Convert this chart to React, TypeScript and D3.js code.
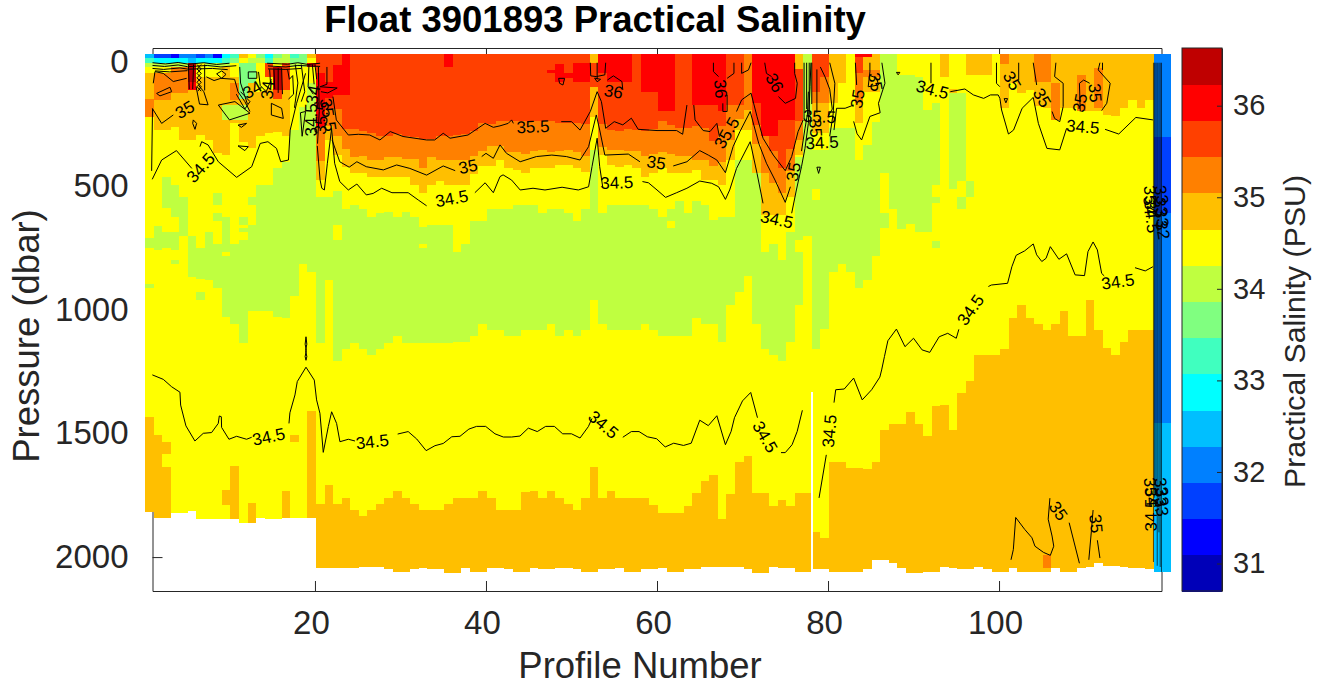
import React, { useEffect, useRef } from 'react';
import * as d3 from 'd3';

type Pt = [number, number];
type Patch = [number, number, number, number, number];
type Label = [string, number, number, number];

const NONE = -99;
const DEEP_NONE = 9999;
const surfacePressure = -32;

// jet(15) steps of the colour bar, low to high
const salinityColors = ['#0000b8', '#0000ff', '#0040ff', '#0080ff', '#00bfff', '#00ffff', '#40ffbf', '#80ff80', '#bfff40', '#ffff00', '#ffbf00', '#ff8000', '#ff4000', '#ff0000', '#bf0000'];
const salinityDomain = [30.7, 36.63];
const salinityTicks = [31, 32, 33, 34, 35, 36];
const profileTicks = [20, 40, 60, 80, 100];
const pressureTicks = [0, 500, 1000, 1500, 2000];

const YELLOW = 34.45, AMBER = 34.85, ORANGE = 35.25, REDORANGE = 35.65, RED = 36.05, DARKRED = 36.45, LIME = 34.1, GREEN = 33.7;

// one value per profile column, dbar
const bottomPressure = [1817, 1841, 1841, 1822, 1822, 1815, 1847, 1847, 1847, 1847, 1847, 1863, 1863, 1841, 1847, 1847, 1841, 1841, 1841, 1841,
  2044, 2044, 2044, 2044, 2044, 2040, 2040, 2042, 2048, 2059, 2059, 2048, 2044, 2048, 2048, 2064, 2064, 2044, 2059, 2059,
  2044, 2044, 2048, 2059, 2059, 2044, 2048, 2048, 2044, 2044, 2048, 2059, 2059, 2048, 2048, 2044, 2059, 2059, 2048, 2048,
  2044, 2059, 2059, 2048, 2048, 2040, 2040, 2040, 2040, 2040, 2048, 2064, 2064, 2040, 2044, 2044, 2059, 2059, 2048, 2048,
  2059, 2059, 2059, 2059, 2048, 2012, 2012, 2025, 2044, 2064, 2064, 2059, 2059, 2040, 2044, 2048, 2048, 2040, 2048, 2059,
  2059, 2044, 2059, 2059, 2059, 2059, 2044, 2059, 2059, 2044, 2040, 2025, 2036, 2036, 2040, 2044, 2044, 2048, 2059, 2059];

const deepAmberTop = [1434, 1507, 1535, DEEP_NONE, DEEP_NONE, DEEP_NONE, DEEP_NONE, DEEP_NONE, DEEP_NONE, DEEP_NONE, 1632, DEEP_NONE, 1782, DEEP_NONE, DEEP_NONE, DEEP_NONE, 1733, DEEP_NONE, DEEP_NONE, 1410,
  1786, 1709, 1786, 1762, 1810, 1834, 1810, 1786, 1762, 1733, 1762, 1786, 1810, 1810, 1810, 1786, 1762, 1762, 1762, 1733,
  1762, 1810, 1810, 1810, 1737, 1733, 1762, 1733, 1762, 1786, 1810, 1762, 1636, 1762, 1733, 1762, 1762, 1762, 1762, 1790,
  1820, 1820, 1820, 1794, 1742, 1693, 1669, 1845, 1746, 1615, 1590, 1742, 1742, 1794, 1770, 1794, 1742, 1742, 1898, 1922,
  1615, 1615, 1640, 1640, 1645, 1615, 1487, 1463, 1463, 1414, 1463, 1512, 1390, 1385, 1487, 1336, 1287, 1184, 1184, 1184,
  1160, 1034, 982, 1034, 1058, 1083, 1058, 1006, 1107, 1107, 962, 1083, 1156, 1184, 1131, 1083, 1083, 1083, DEEP_NONE, DEEP_NONE];

const limeTop = [710, 661, 465, 497, 546, 702, 750, 686, 736, 784, 736, 719, 659, 497, 497, 428, 404, 275, 180, 86,
  544, 544, 520, 594, 578, 594, 625, 611, 606, 625, 606, 625, 667, 659, 659, 659, 766, 736, 642, 642,
  594, 594, 594, 578, 578, 578, 609, 594, 594, 609, 642, 594, 355, 609, 578, 578, 578, 578, 578, 594,
  625, 594, 562, 609, 562, 578, 638, 625, 625, 396, 396, 396, 766, 736, 800, 687, 383, -32, 355, 355,
  267, 267, 267, 396, 335, 241, -32, -32, 52, 52, 60, 194, 167, DEEP_NONE, 126, 126, 481, DEEP_NONE, DEEP_NONE, DEEP_NONE,
  DEEP_NONE, DEEP_NONE, DEEP_NONE, DEEP_NONE, DEEP_NONE, DEEP_NONE, DEEP_NONE, DEEP_NONE, DEEP_NONE, DEEP_NONE, DEEP_NONE, DEEP_NONE, DEEP_NONE, DEEP_NONE, DEEP_NONE, DEEP_NONE, DEEP_NONE, DEEP_NONE, DEEP_NONE, DEEP_NONE];

const limeBottom = [750, 760, 590, 626, 703, 867, 877, 881, 913, 1029, 1058, 1134, 1004, 1004, 1004, 1029, 1033, 945, 816, 848,
  1134, 881, 1207, 1158, 1134, 1158, 1184, 1158, 1134, 1107, 1134, 1134, 1134, 1134, 1134, 1134, 1130, 1130, 1107, 1058,
  1083, 1083, 1107, 1107, 1083, 1083, 1083, 1058, 1107, 1083, 1107, 1083, 962, 1058, 1083, 1083, 1083, 1083, 1058, 1083,
  1107, 1107, 1107, 1107, 1034, 1058, 1058, 1131, 982, 929, 865, 1058, 1160, 1184, 1208, 1131, 982, 703, 1160, 1079,
  848, 816, 848, 913, 881, 784, 449, 594, 675, 655, 687, 687, 497, 0, 513, 481, 545, 0, 0, 0,
  0, 0, 0, 0, 0, 0, 0, 0, 0, 0, 0, 0, 0, 0, 0, 0, 0, 0, 0, 0];

const amberBottom = [221, 275, 275, 261, 315, 315, 295, 315, 369, 376, 248, 322, 349, 301, 288, 281, 301, NONE, NONE, NONE,
  477, 315, 376, 425, 448, 448, 463, 463, 463, 463, 463, 497, 528, 497, 480, 497, 497, 497, 452, 420,
  420, 396, 430, 436, 450, 430, 430, 430, 416, 416, 430, 443, 223, 376, 416, 423, 416, 430, 463, 450,
  430, 450, 450, 450, 436, 477, 477, 497, 396, 275, 275, 450, 618, 618, 618, 544, 376, NONE, 285, 285,
  167, 86, NONE, 248, 120, 120, NONE, NONE, NONE, NONE, NONE, NONE, NONE, 59, NONE, NONE, 52, 52, 52, NONE,
  187, 86, 126, 113, 176, 187, 234, 187, 187, 200, 200, 200, 214, 218, 187, 153, 187, 153, NONE, NONE];

const orangeBottom = [221, 153, 153, 127, 127, 113, NONE, NONE, NONE, NONE, NONE, NONE, NONE, NONE, NONE, NONE, NONE, NONE, NONE, NONE,
  400, 260, 300, 350, 385, 380, 395, 395, 385, 385, 390, 390, 430, 385, 395, 395, 395, 395, 380, 360,
  340, 340, 365, 365, 372, 360, 355, 365, 360, 355, 365, 380, NONE, 345, 355, 355, 360, 360, 380, 370,
  365, 370, 380, 380, 395, 395, 420, 405, 315, 230, 195, 330, 450, 490, 530, 440, 315, NONE, 167, 167,
  NONE, NONE, NONE, 167, NONE, NONE, NONE, NONE, NONE, NONE, NONE, NONE, NONE, NONE, NONE, NONE, NONE, NONE, NONE, NONE,
  NONE, NONE, NONE, NONE, 79, 79, NONE, NONE, NONE, NONE, NONE, NONE, NONE, NONE, NONE, NONE, NONE, NONE, NONE, NONE];

const redOrangeBottom = [NONE, NONE, NONE, NONE, NONE, NONE, NONE, NONE, NONE, NONE, NONE, NONE, NONE, NONE, NONE, NONE, NONE, NONE, NONE, NONE,
  250, 190, 190, 272, 272, 280, 288, 300, 300, 290, 300, 305, 310, 310, 300, 300, 295, 290, 280, 245,
  250, 240, 240, 240, 240, 240, 240, 240, 245, 245, 245, 250, NONE, 250, 275, 280, 270, 275, 280, 270,
  240, 255, 265, 265, 260, 265, 320, 260, 175, 175, NONE, 255, 280, 360, 430, 350, 240, NONE, 120, 60,
  NONE, NONE, NONE, 46, NONE, NONE, NONE, NONE, NONE, NONE, NONE, NONE, NONE, NONE, NONE, NONE, NONE, NONE, NONE, NONE,
  NONE, NONE, NONE, NONE, NONE, NONE, NONE, NONE, NONE, NONE, NONE, NONE, NONE, NONE, NONE, NONE, NONE, NONE, NONE, NONE];

// shallow salinity of the first twenty profiles
const surfaceRow1 = [32.5, 31.7, 31.7, 31.3, 32.1, 32.1, 31.7, 32.1, 31.3, 32.9, 33.3, 34.85, 34.45, 33.7, 32.9, 33.7, 34.1, 33.3, 33.7, 34.85];
const surfaceRow2 = [33.3, 32.9, 32.9, 32.9, 32.9, 32.5, 32.9, 32.9, 32.9, 33.3, 33.7, 34.45, 34.1, 34.1, 33.3, 34.1, 34.1, 33.7, 33.7, 34.45];
const surfaceRow3 = [34.1, 34.1, 34.1, 34.1, 34.1, 36.45, 34.45, 34.1, 34.1, 34.1, 33.7, 33.7, 33.7, 34.45, 35.65, 34.45, 34.45, 34.1, 34.1, 36.05];

// from profile, to profile, top dbar, bottom dbar, salinity
const patches: Patch[] = [
  [1, 3, 22, 46, YELLOW], [1, 1, 46, 150, AMBER], [3, 3, 1585, 1635, YELLOW], [4, 4, 687, 760, LIME], [4, 4, 800, 816, LIME],
  [1, 1, 897, 913, LIME], [3, 3, 687, 750, LIME], [7, 7, 928, 962, LIME], [9, 9, 530, 578, LIME], [9, 9, 611, 642, LIME],
  [10, 10, 625, 766, LIME], [12, 12, 625, 659, LIME], [12, 12, 671, 686, LIME], [13, 13, 546, 578, LIME],
  [10, 10, 1729, 1790, AMBER], [18, 18, 1507, 1534, AMBER],
  [6, 6, 22, 79, DARKRED], [6, 6, 79, 113, RED], [7, 9, 22, 60, YELLOW], [10, 10, 22, 100, AMBER],
  [12, 12, 3, 150, GREEN], [13, 13, 3, 86, GREEN], [11, 11, 3, 60, YELLOW], [11, 11, 86, 153, ORANGE], [11, 12, 153, 174, AMBER],
  [10, 12, 174, 234, LIME], [14, 14, 3, 120, YELLOW], [15, 15, 3, 60, REDORANGE], [15, 15, 60, 110, YELLOW],
  [16, 16, 22, 113, DARKRED], [16, 16, 113, 150, REDORANGE], [17, 17, 3, 113, REDORANGE], [20, 20, 22, 86, YELLOW],
  [21, 21, 46, 261, RED], [22, 22, 79, 147, RED], [23, 23, 12, 133, RED], [24, 24, -32, 133, RED], [36, 36, -32, 19, RED],
  [48, 48, 32, 46, RED], [49, 49, 8, 79, RED], [50, 50, 46, 66, RED], [51, 52, 5, 79, RED], [53, 53, 5, 100, REDORANGE],
  [55, 57, -32, 79, RED], [54, 54, -32, 46, RED], [59, 60, -32, 120, RED], [61, 62, -32, 200, RED], [65, 67, -32, 174, RED], [68, 68, -32, 200, RED],
  [72, 72, -32, 167, RED], [73, 74, -32, 301, RED], [75, 76, -32, 235, RED],
  [84, 85, -32, -20, RED], [85, 86, 32, 60, ORANGE], [85, 85, 60, 120, AMBER], [77, 77, -32, 30, AMBER], [78, 78, 703, 816, YELLOW],
  [77, 77, 719, 766, YELLOW], [78, 78, 832, 1742, YELLOW], [79, 79, 513, 558, YELLOW], [23, 23, 659, 719, YELLOW], [33, 33, 736, 751, YELLOW], [62, 62, 642, 671, YELLOW],
  [87, 87, 611, 671, LIME], [93, 93, 545, 570, LIME], [93, 93, 725, 750, LIME], [96, 96, 544, 594, LIME], [95, 95, 110, 126, AMBER],
  [101, 101, -32, 10, ORANGE], [107, 107, 86, 234, ORANGE], [110, 110, 52, 200, ORANGE], [112, 112, 25, 187, ORANGE], [106, 106, 1990, 2044, ORANGE],
  [119, 120, surfacePressure, 303, 32.1], [119, 120, 303, 609, 31.7], [119, 120, 609, 1457, 32.1], [119, 120, 1457, 2059, 32.5],
];

// isolines, [profile, dbar]
const line34p5: Pt[][] = [
  [[0.98, 1264], [2.26, 1282], [3.24, 1312], [4.21, 1334], [4.29, 1386], [4.91, 1470], [5.96, 1531], [6.94, 1500], [7.91, 1497], [8.69, 1460], [8.81, 1430], [9.05, 1433], [9.08, 1476], [9.94, 1524], [10.84, 1512], [12, 1524], [12.6, 1516]],
  [[16.96, 1460], [17.07, 1417], [17.66, 1345], [17.93, 1291], [18.95, 1233], [19.92, 1285], [20.19, 1365], [20.58, 1419], [20.97, 1577], [21.56, 1473], [21.95, 1413], [22.53, 1460], [22.92, 1534], [23.9, 1524], [24.68, 1531]],
  [[18.95, 1110], [19.05, 1140], [18.9, 1165], [19.05, 1190], [18.95, 1205], [18.85, 1190], [19, 1165], [18.85, 1140], [18.95, 1110]],
  [[29.67, 1503], [30.9, 1493], [31.9, 1523], [33, 1570], [34.03, 1550], [35, 1541], [36, 1514], [36.96, 1512], [38, 1483], [38.9, 1472], [39.96, 1472], [41.05, 1502], [42.03, 1515], [43, 1515], [43.98, 1511], [44.95, 1479], [46, 1493], [46.98, 1472], [48, 1472], [48.97, 1502], [50, 1502], [51, 1519], [51.97, 1473], [52.4, 1440]],
  [[56, 1516], [57, 1493], [57.9, 1493], [58.87, 1514], [59.96, 1522], [60.96, 1555], [61.95, 1540], [63.1, 1549], [64, 1540], [65, 1447], [66, 1469], [67, 1429], [68, 1546], [68.67, 1492], [69.06, 1437], [70, 1369], [70.96, 1335], [71.75, 1437]],
  [[74.5, 1578], [75, 1578], [75.8, 1546], [76.4, 1492], [77, 1407]],
  [[78.95, 1761], [79.6, 1628], [79.8, 1587]],
  [[80.7, 1376], [80.9, 1324], [81.9, 1321], [83, 1277], [84, 1365], [85.1, 1324], [86.06, 1273], [86.27, 1244], [86.6, 1190], [87, 1126], [88, 1079], [89, 1150], [90, 1116], [91, 1163], [91.9, 1173], [93, 1110], [94, 1096], [95, 1116], [95.3, 1080]],
  [[98.75, 907], [99.1, 901], [101, 894], [101.5, 827], [102, 781], [103, 763], [104, 735], [104.4, 779], [105, 806], [105.5, 793], [106, 746], [107, 797], [107.9, 775], [108.9, 860], [110, 863], [110.4, 766], [111, 727], [111.5, 759], [112, 854], [112.3, 864]],
  [[115.9, 831], [117.1, 844], [118, 827]],
  [[0.97, 474], [2.07, 396], [3.8, 358], [5.6, 430]],
  [[6.55, 342], [6.75, 322], [7.5, 335], [8.7, 403], [10.84, 466], [12.6, 423], [13.6, 329], [14.5, 322], [15.5, 349], [16, 403], [16.9, 396], [17.1, 275], [17.85, 167], [18.9, 46]],
  [[20.27, 339], [20.6, 477], [20.8, 510], [21.1, 517], [21.45, 409], [21.95, 268], [22.3, 409], [22.9, 483], [23.9, 517], [24.9, 493], [26, 537], [26.8, 531], [27.8, 510], [29, 528], [30.9, 528], [32.1, 558], [33.06, 581]],
  [[38.7, 528], [39.9, 488], [40.86, 528], [41.64, 463], [42, 456], [43, 477], [44, 517], [45.5, 510], [46.9, 517], [48.9, 506], [50.8, 517], [52, 504], [52.4, 423], [53, 308], [53.3, 423], [53.65, 504]],
  [[58.3, 483], [59, 488], [60, 517], [61, 547], [62.3, 528], [63.5, 510], [65, 481], [66.4, 490], [67.2, 504], [68, 555], [68.5, 517], [69.3, 430], [70.9, 322], [71.7, 450], [72.4, 571]],
  [[75.75, 611], [76.3, 517], [76.9, 423], [77.3, 350], [77.7, 248], [77.9, 100], [78, 3]],
  [[83, 174], [82, 187], [81, 187], [80.7, 275]],
  [[83, 240], [83.4, 290], [83.93, 315], [84.9, 220], [86.1, 205], [85.9, 167], [86.66, 86], [86.3, 3]],
  [[94.3, 120], [96, 109], [97, 133], [98.2, 147], [99, 133], [99.9, 133], [100.1, 147], [100.3, 194], [101.1, 291], [101.7, 275], [102.7, 187], [104, 143], [104.6, 248], [105.6, 349], [107.1, 355], [107.9, 268]],
  [[112.4, 272], [114, 291], [116, 224], [118, 234]],
];

const line35: Pt[][] = [
  [[0.97, 187], [2.07, 248], [3.43, 214]],
  [[1.48, 127], [3.04, 102], [3.24, 120], [1.87, 137], [1.48, 127]],
  [[1.09, 86], [1.29, 39], [2.26, 46], [3.43, 79], [5, 66]],
  [[8.7, 174], [10.64, 160], [12.4, 207], [10, 234], [8.7, 174]],
  [[5.77, 234], [6.16, 248], [5.97, 272], [5.7, 248], [5.77, 234]],
  [[11, 255], [12, 248], [11.4, 264], [11, 255]],
  [[11, 339], [12.2, 342], [11.8, 358], [11, 339]],
  [[14.9, 167], [16.1, 187], [16.3, 228], [14.9, 214], [14.9, 167]],
  [[6.1, 100], [6.5, 170], [7.5, 173], [7, 120], [6.4, 95]],
  [[22, 315], [22.9, 403], [24, 425], [24.9, 403], [26, 423], [28, 436], [29.55, 416], [31.1, 430], [33.06, 457], [35, 420], [36.4, 439]],
  [[39.5, 382], [40, 369], [40.86, 389], [41.64, 335], [42.4, 369], [44, 403], [45.9, 382], [47.7, 376], [49.4, 382], [51, 396], [52, 342], [52.9, 214], [53.3, 275], [53.9, 376], [56.65, 372], [58, 403]],
  [[61.9, 420], [63.5, 403], [65, 358], [66, 376], [67, 396], [68, 447], [68.9, 342], [69.7, 281], [70.9, 200], [71.9, 329], [72.8, 409], [73.8, 477], [75, 567], [75.6, 504]],
  [[76.9, 360], [77.3, 270], [77.6, 210], [77.7, 120]],
  [[101.4, 2011], [101.67, 1970], [101.95, 1840], [103, 1888], [103.85, 1922], [104.2, 1956], [105.2, 1981], [106, 1993], [106.4, 1956], [106.2, 1915], [105.75, 1847], [105.95, 1762]],
  [[108.2, 1861], [108.8, 1943], [109.4, 2025]],
  [[110.5, 2011], [110.8, 1895], [111, 1810]],
  [[111.5, 1932], [111.8, 2004]],
  [[83.2, 3], [83.35, 93]],
  [[84.9, 3], [84.9, 40], [84.7, 100], [85.9, 93], [85.7, 65], [85, 56]],
  [[92.04, 3], [92.04, 86]],
  [[99.7, 3], [99.7, 86], [100.1, 100]],
  [[102.3, 3], [102.3, 73]],
  [[100.6, 148], [101, 148], [100.8, 165], [100.6, 148]],
  [[104, 3], [104.4, 93]],
  [[106.65, 3], [106.5, 59], [107.5, 86], [107.5, 180], [107.1, 241], [106.5, 228], [106.2, 200]],
  [[109.5, 200], [109.4, 86], [109.9, 73], [110.6, 86]],
  [[111.8, 3], [111.6, 32], [113, 86], [112.6, 167], [112, 196]],
  [[112.1, 3], [112.1, 32]],
];

const line35p5: Pt[][] = [
  [[22.1, 140], [22.5, 234], [23.9, 295], [25.07, 292], [26.4, 295], [27.6, 315], [28.8, 281], [30.3, 301], [33.06, 315], [34, 315], [35, 288], [35.8, 308], [37.9, 295], [39.9, 248], [40.86, 264], [41.64, 258], [42.6, 248], [43, 234], [43.2, 248]],
  [[48.8, 241], [50, 241], [51, 275], [52.2, 200], [53, 120], [53.5, 160], [54, 268], [55, 241], [56, 254], [57, 227], [57.8, 272], [60, 277], [62.3, 277], [63, 292], [63.5, 174]],
  [[64.3, 174], [64.45, 234], [65.4, 277], [66.2, 281], [67, 248], [67.3, 302]],
  [[69.3, 200], [69.9, 153], [71, 126], [71.7, 221], [72.4, 308], [73.6, 376], [75, 439], [75.75, 382], [76.5, 281], [77.1, 234]],
  [[20.4, 20], [20.5, 200], [20.3, 330]],
  [[21.4, 20], [21.4, 90], [20.6, 100], [22.6, 105], [21.5, 125], [20.7, 120]],
];

const line36: Pt[][] = [
  [[48.5, 66], [49.2, 66], [49, 93], [48.6, 86], [48.5, 66]],
  [[52.2, 3], [52.25, 56], [52.9, 59], [53.9, 52], [54, 3]],
  [[53, 3], [53, 70]],
  [[52.7, 65], [53.4, 70], [53, 80], [52.7, 65]],
  [[54.2, 73], [54.9, 56], [55.9, 79], [56, 113]],
  [[66.6, 3], [66.6, 39], [67.2, 59]],
  [[67.7, 167], [67.7, 200], [68.2, 200], [68.2, 133]],
  [[69, 3], [69, 46], [68.2, 66]],
  [[69.9, 3], [69.9, 46], [70.7, 32], [71, 3]],
  [[72.6, 3], [72.8, 46], [73.4, 59]],
  [[74.2, 140], [75, 167], [76.2, 147], [76.4, 86], [76.1, 46], [76.1, 3]],
  [[77.2, 3], [77.2, 230]], [[77.5, 3], [77.5, 190]], [[77.8, 3], [77.8, 210]], [[78.1, 3], [78.1, 170]],
  [[78.7, 30], [78.7, 205]],
  [[79.1, 20], [79.65, 60], [80.2, 110], [80.5, 190], [80, 220]],
  [[80.2, 3], [80.8, 86], [80.6, 210], [80.2, 300]],
  [[78.7, 425], [79.1, 425], [78.9, 450], [78.7, 425]],
  [[88, 42], [88.4, 42], [88.2, 52], [88, 42]],
];

// tight tangle of lines in the fresh surface layer
const surfaceTangle: Pt[][] = [
  [[1, 3], [2.5, 8], [4, 2], [5.2, 9], [7, 3], [8.5, 10], [10, 5]],
  [[1, 14], [2.4, 18], [4, 12], [5.1, 19], [7.4, 14], [9, 20], [10.8, 15]],
  [[1, 26], [2.3, 30], [4.2, 24], [5.2, 29], [8, 26], [9.8, 31]],
  [[1.3, 36], [3, 40], [5.1, 35]],
  [[5.2, 10], [5.3, 110]], [[5.8, 10], [5.7, 110]],
  [[6.2, 10], [6.7, 28], [6.2, 46], [6.7, 64], [6.2, 82], [6.7, 100], [6.3, 118]],
  [[6.7, 10], [6.2, 28], [6.7, 46], [6.2, 64], [6.7, 82], [6.2, 100], [6.7, 118]],
  [[7.1, 10], [7.1, 115]],
  [[8.5, 48], [9.1, 36], [9.6, 50], [9.1, 66], [8.5, 48]],
  [[7.3, 60], [8.2, 75], [9, 66], [10.6, 70], [11, 120], [11.8, 160], [12.4, 200]],
  [[11.2, 20], [11.3, 85], [12.1, 170]],
  [[12.2, 40], [13.2, 40], [13.2, 66], [12.2, 66], [12.2, 40]],
  [[10.8, 130], [11.8, 190], [12.4, 160], [11.3, 120]],
  [[13.4, 40], [13.6, 95], [14.3, 120], [14.9, 70]],
  [[14.4, 5], [16.8, 9], [18, 3], [19.2, 10], [20.6, 5]],
  [[14.5, 16], [16.6, 20], [18, 14], [20.6, 18]],
  [[14.5, 28], [16.6, 30], [18.4, 26]],
  [[14.7, 30], [14.8, 85]], [[15.2, 30], [15.3, 110]], [[15.7, 25], [15.7, 125]], [[16.1, 25], [16.2, 130]],
  [[16.8, 30], [17, 70], [17.4, 55], [17.5, 130], [16.9, 150]],
  [[17.7, 10], [18, 85], [17.6, 185]],
  [[18.4, 10], [18.8, 120], [18.4, 160]],
  [[19.3, 10], [19.2, 100], [19.8, 130]],
  [[19.7, 10], [19.9, 90]],
  [[20, 10], [20.2, 70]],
  [[18.3, 205], [18.9, 200], [18.5, 300], [18.3, 205]],
  [[0.9, 440], [1, 190]],
];

// stack of vertical isolines squeezed against the last profile
const edgeLineProfiles = [118.06, 118.2, 118.35, 118.5, 118.7, 118.85, 119];
const edgeLineEnds: Pt[] = [[3, 2020], [3, 1760], [3, 1730], [3, 2035], [3, 1900], [3, 2040], [3, 2060]];

const contourLabels: Label[] = [
  ['35', 4.8, 194, -30], ['34.5', 6.67, 428, -48], ['34', 14.5, 113, -85], ['34', 12.7, 113, -30], ['34', 19.8, 133, -80],
  ['34.5', 19.65, 234, -90], ['35.5', 20.8, 226, -85], ['35.5', 21.5, 214, 80],
  ['34.5', 36, 553, -10], ['35', 37.9, 424, -12], ['35', 59.9, 408, 8], ['34.5', 55.3, 489, -2], ['35.5', 45.5, 263, -2],
  ['34.5', 26.7, 1535, -6], ['34.5', 14.6, 1515, -12], ['34.5', 53.7, 1466, 40], ['34.5', 72.6, 1515, 60], ['34.5', 80.2, 1491, -85],
  ['34.5', 96.7, 1002, -55], ['34.5', 113.9, 889, -8], ['35', 106.9, 1814, 55], ['35', 111.3, 1865, 85],
  ['36', 54.9, 121, 10], ['36', 67.4, 109, 85], ['36', 73.7, 85, 60], ['35.5', 68.2, 287, -60], ['34.5', 74, 638, 12], ['35', 76, 444, -80],
  ['35.5', 79, 222, 3], ['35', 78.5, 267, 85], ['34.5', 79.3, 327, -3],
  ['35', 83.5, 149, -80], ['35', 85.5, 81, 80], ['34.5', 92.2, 113, 15], ['35', 101.5, 77, 60], ['35', 105, 145, 60], ['35', 109.5, 166, -80], ['35', 111.2, 125, 85], ['34.5', 109.8, 263, 5],
  ['33', 118.95, 537, 80], ['33', 118.9, 586, 80], ['33', 119, 630, 80], ['32', 119.1, 679, 80], ['35', 117.66, 537, 85], ['34', 117.6, 580, 85], ['34.5', 117.8, 625, 85],
  ['33', 118.95, 1717, 80], ['33', 119, 1757, 80], ['33', 118.95, 1798, 80], ['35', 117.66, 1717, 85], ['34', 117.8, 1757, 85], ['34.5', 117.8, 1830, -90],
];

const W = 1325, H = 687;

export default function App() {
  const svgRef = useRef<SVGSVGElement>(null);

  useEffect(() => {
    if (!svgRef.current) return;
    const svg = d3.select(svgRef.current);
    svg.selectAll('*').remove();
    svg.style('font-family', '"Liberation Sans", Arial, sans-serif');

    const x = d3.scaleLinear().domain([1, 119]).range([152.5, 1161.5]);
    const y = d3.scaleLinear().domain([-56.5, 2137]).range([48, 591]);
    const colour = d3.scaleQuantize<string>().domain(salinityDomain).range(salinityColors);
    const barY = d3.scaleLinear().domain(salinityDomain).range([591, 48]);

    const axisColor = '#262626';
    const styleAxis = (g: any, size: number) => {
      g.selectAll('.domain').attr('stroke', axisColor).attr('stroke-width', 1);
      g.selectAll('.tick line').attr('stroke', axisColor).attr('stroke-width', 1);
      g.selectAll('.tick text').attr('fill', axisColor).style('font-size', size + 'px');
    };

    // box first, the cells sit on top of it as in the original
    const axes = svg.append('g');
    const bottom = axes.append('g').attr('transform', 'translate(0,591)')
      .call(d3.axisBottom(x).tickValues(profileTicks).tickSizeInner(-10).tickSizeOuter(0).tickPadding(20).tickFormat(d3.format('d')) as any);
    styleAxis(bottom, 33);
    bottom.selectAll('.tick text').attr('dx', -4);
    const top = axes.append('g').attr('transform', 'translate(0,48)')
      .call(d3.axisTop(x).tickValues(profileTicks).tickSizeInner(-10).tickSizeOuter(0).tickFormat(() => '') as any);
    styleAxis(top, 33);
    const left = axes.append('g').attr('transform', 'translate(152.5,0)')
      .call(d3.axisLeft(y).tickValues(pressureTicks).tickSizeInner(-10).tickSizeOuter(0).tickPadding(24).tickFormat(d3.format('d')) as any);
    styleAxis(left, 33);
    const right = axes.append('g').attr('transform', 'translate(1161.5,0)')
      .call(d3.axisRight(y).tickValues(pressureTicks).tickSizeInner(-10).tickSizeOuter(0).tickFormat(() => '') as any);
    styleAxis(right, 33);

    // salinity cells, painted from the deep bands up to the surface ones
    const cells = svg.append('g').attr('shape-rendering', 'crispEdges');
    const cell = (from: number, to: number, pTop: number, pBottom: number, sal: number) => {
      if (pBottom <= pTop) return;
      cells.append('rect')
        .attr('x', x(from - 0.88))
        .attr('width', x(to + 0.12) - x(from - 0.88))
        .attr('y', y(pTop))
        .attr('height', y(pBottom) - y(pTop))
        .attr('fill', colour(sal));
    };
    bottomPressure.forEach((bot, i) => {
      const p = i + 1;
      cell(p, p, surfacePressure, bot, YELLOW);
      cell(p, p, deepAmberTop[i], bot, AMBER);
      cell(p, p, limeTop[i], limeBottom[i], LIME);
      cell(p, p, surfacePressure, amberBottom[i], AMBER);
      cell(p, p, surfacePressure, orangeBottom[i], ORANGE);
      cell(p, p, surfacePressure, redOrangeBottom[i], REDORANGE);
    });
    surfaceRow1.forEach((s, i) => cell(i + 1, i + 1, surfacePressure, -15, s));
    surfaceRow2.forEach((s, i) => cell(i + 1, i + 1, -15, 3, s));
    surfaceRow3.forEach((s, i) => cell(i + 1, i + 1, 3, 22, s));
    patches.forEach(([a, b, t, d, s]) => cell(a, b, t, d, s));
    // missing column sliver near profile 78
    cells.append('rect').attr('x', x(78)).attr('width', 2).attr('y', y(1335)).attr('height', y(2059) - y(1335)).attr('fill', '#fff');

    // isolines
    const path = d3.line<Pt>().x(d => x(d[0])).y(d => y(d[1]));
    const isolines = svg.append('g').attr('fill', 'none').attr('stroke', '#000').attr('stroke-width', 1);
    [...line34p5, ...line35, ...line35p5, ...line36, ...surfaceTangle].forEach(seg => {
      isolines.append('path').attr('d', path(seg));
    });
    edgeLineProfiles.forEach((p, i) => {
      isolines.append('path').attr('d', path([[p, edgeLineEnds[i][0]], [p, edgeLineEnds[i][1]]])).attr('stroke-opacity', 0.65);
    });

    contourLabels.forEach(([t, p, d, rot]) => {
      svg.append('text')
        .attr('transform', `translate(${x(p)},${y(d)}) rotate(${rot})`)
        .attr('text-anchor', 'middle')
        .attr('dominant-baseline', 'central')
        .style('font-size', '17px')
        .attr('fill', '#000')
        .text(t);
    });

    // axis titles
    svg.append('text').attr('x', 595).attr('y', 32).attr('text-anchor', 'middle')
      .style('font-size', '36.5px').style('font-weight', 700).attr('fill', '#000').text('Float 3901893 Practical Salinity');
    svg.append('text').attr('x', 640).attr('y', 678).attr('text-anchor', 'middle')
      .style('font-size', '36.5px').attr('fill', axisColor).text('Profile Number');
    svg.append('text').attr('transform', 'translate(39,336) rotate(-90)').attr('text-anchor', 'middle')
      .style('font-size', '36.5px').attr('fill', axisColor).text('Pressure (dbar)');

    // colour bar
    const bar = svg.append('g');
    const bandH = 543 / salinityColors.length;
    salinityColors.forEach((c, i) => {
      bar.append('rect').attr('shape-rendering', 'crispEdges')
        .attr('x', 1182).attr('width', 40)
        .attr('y', 591 - (i + 1) * bandH).attr('height', bandH + 0.5)
        .attr('fill', c);
    });
    bar.append('rect').attr('x', 1182).attr('y', 48).attr('width', 40).attr('height', 543)
      .attr('fill', 'none').attr('stroke', axisColor).attr('stroke-width', 1);
    const barAxis = bar.append('g').attr('transform', 'translate(1222,0)')
      .call(d3.axisRight(barY).tickValues(salinityTicks).tickSizeInner(-5).tickSizeOuter(0).tickPadding(11).tickFormat(d3.format('d')) as any);
    styleAxis(barAxis, 29);
    svg.append('text').attr('transform', 'translate(1305,331.5) rotate(-90)').attr('text-anchor', 'middle')
      .style('font-size', '30.3px').attr('fill', axisColor).text('Practical Salinity (PSU)');
  }, []);

  return (
    <svg ref={svgRef} width={W} height={H} viewBox={`0 0 ${W} ${H}`}
      style={{ position: 'absolute', left: 0, top: 0, background: '#fff' }} />
  );
}
